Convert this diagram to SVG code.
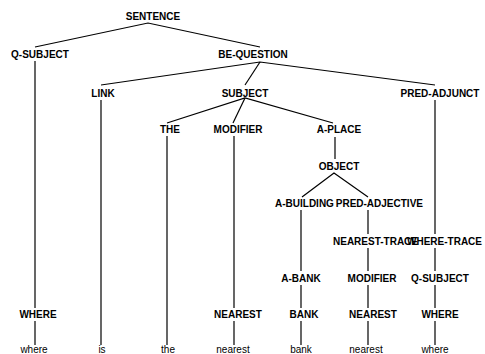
<svg xmlns="http://www.w3.org/2000/svg" width="485" height="354" viewBox="0 0 485 354">
<style>
text{font-family:"Liberation Sans",Arial,sans-serif;font-size:10px;font-weight:bold;fill:#000;text-anchor:middle}
text.w{font-weight:normal;font-size:10px}
text.s{text-anchor:start}
text.e{text-anchor:end}
.c line,.c polyline{stroke:#000;stroke-width:1.2;fill:none}
</style>
<rect width="485" height="354" fill="#fff"/>
<g class="c" id="connectors">
<polyline points="35,47 148,23 260,47"/>
<line x1="35" y1="61" x2="35" y2="308"/>
<polyline points="101,85 260,62 435,85"/>
<line x1="260" y1="62" x2="245" y2="85"/>
<line x1="101" y1="100" x2="101" y2="345"/>
<polyline points="167,123 245,98 333,123"/>
<line x1="245" y1="98" x2="233" y2="123"/>
<line x1="167" y1="136" x2="167" y2="345"/>
<line x1="234" y1="136" x2="234" y2="308"/>
<line x1="335" y1="137" x2="335" y2="159"/>
<polyline points="302,197 334,173 368,197"/>
<line x1="301" y1="210" x2="301" y2="271"/>
<line x1="368" y1="210" x2="368" y2="234"/>
<line x1="435" y1="100" x2="435" y2="234"/>
<line x1="368" y1="248" x2="368" y2="271"/>
<line x1="435" y1="248" x2="435" y2="271"/>
<line x1="301" y1="285" x2="301" y2="308"/>
<line x1="368" y1="285" x2="368" y2="308"/>
<line x1="435" y1="285" x2="435" y2="308"/>
<line x1="35" y1="321" x2="35" y2="345"/>
<line x1="234" y1="321" x2="234" y2="345"/>
<line x1="301" y1="321" x2="301" y2="345"/>
<line x1="368" y1="321" x2="368" y2="345"/>
<line x1="435" y1="321" x2="435" y2="345"/>
</g>
<g id="n-sentence"><text x="153" y="20">SENTENCE</text></g>
<g id="n-qsubject"><text x="40" y="58">Q-SUBJECT</text></g>
<g id="n-bequestion"><text x="253" y="58">BE-QUESTION</text></g>
<g id="n-link"><text x="103" y="97">LINK</text></g>
<g id="n-subject"><text x="245" y="97">SUBJECT</text></g>
<g id="n-predadjunct"><text x="440" y="97">PRED-ADJUNCT</text></g>
<g id="n-the"><text x="170" y="133">THE</text></g>
<g id="n-modifier1"><text x="238" y="133">MODIFIER</text></g>
<g id="n-aplace"><text x="339" y="133">A-PLACE</text></g>
<g id="n-object"><text x="339" y="170">OBJECT</text></g>
<g id="n-abuilding"><text class="s" x="275" y="207">A-BUILDING</text></g>
<g id="n-predadjective"><text class="e" x="423" y="207">PRED-ADJECTIVE</text></g>
<g id="n-nearesttrace"><text class="s" x="333" y="245">NEAREST-TRACE</text></g>
<g id="n-wheretrace"><text class="e" x="482" y="245">WHERE-TRACE</text></g>
<g id="n-abank"><text x="301" y="282">A-BANK</text></g>
<g id="n-modifier2"><text x="372" y="282">MODIFIER</text></g>
<g id="n-qsubject2"><text x="440" y="282">Q-SUBJECT</text></g>
<g id="n-where1"><text x="38" y="318">WHERE</text></g>
<g id="n-nearest1"><text x="238" y="318">NEAREST</text></g>
<g id="n-bank"><text x="304" y="318">BANK</text></g>
<g id="n-nearest2"><text x="373" y="318">NEAREST</text></g>
<g id="n-where2"><text x="440" y="318">WHERE</text></g>
<g id="w-where1"><text class="w" x="34" y="353">where</text></g>
<g id="w-is"><text class="w" x="102" y="353">is</text></g>
<g id="w-the"><text class="w" x="168" y="353">the</text></g>
<g id="w-nearest1"><text class="w" x="233" y="353">nearest</text></g>
<g id="w-bank"><text class="w" x="301" y="353">bank</text></g>
<g id="w-nearest2"><text class="w" x="366" y="353">nearest</text></g>
<g id="w-where2"><text class="w" x="435" y="353">where</text></g>
</svg>
